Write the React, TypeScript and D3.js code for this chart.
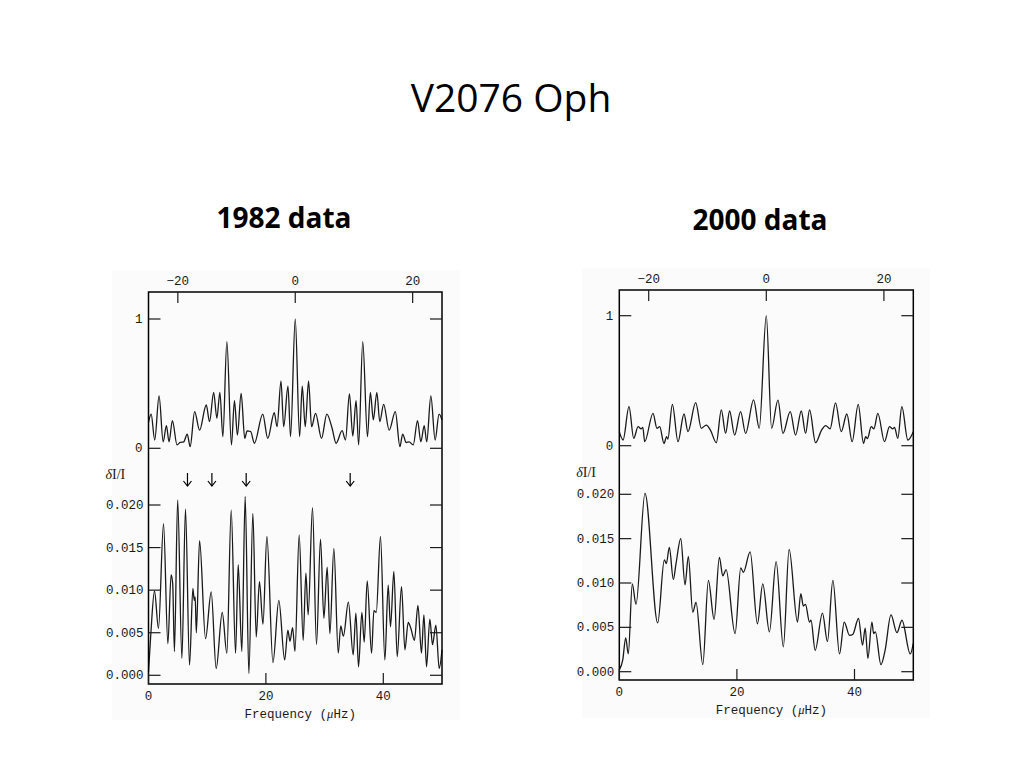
import React from 'react';
import * as d3 from 'd3';

// spectral window (top traces), offset frequency in microHz vs relative power
const window1982: [number, number][] = [
  [-25, 0.2], [-24.55, 0.265], [-23.94, 0.064], [-23.2, 0.405], [-22.5, 0.05], [-21.95, 0.175],
  [-21.5, 0.05], [-20.93, 0.214], [-20.14, 0.026], [-19.6, 0.045], [-19.0, 0.05], [-18.4, 0.11],
  [-17.9, 0.013], [-17.14, 0.283], [-16.3, 0.14], [-15.16, 0.335], [-14.6, 0.206], [-13.9, 0.433],
  [-13.35, 0.232], [-12.84, 0.433], [-12.33, 0.09], [-11.65, 0.825], [-10.87, 0.026], [-10.36, 0.368],
  [-9.85, 0.103], [-9.22, 0.425], [-8.6, 0.077], [-8.2, 0.135], [-7.6, 0.13], [-6.96, 0.039],
  [-5.54, 0.265], [-4.69, 0.077], [-3.57, 0.275], [-3.1, 0.167], [-2.43, 0.52], [-1.97, 0.167],
  [-1.24, 0.48], [-0.8, 0.09], [0, 1.0], [0.74, 0.09], [1.19, 0.48], [1.7, 0.167], [2.27, 0.52],
  [2.78, 0.167], [3.46, 0.27], [4.48, 0.077], [5.38, 0.265], [6.28, 0.155], [6.96, 0.039],
  [7.98, 0.136], [8.56, 0.064], [9.23, 0.42], [9.8, 0.095], [10.36, 0.368], [10.8, 0.026],
  [11.5, 0.825], [12.3, 0.09], [12.8, 0.433], [13.3, 0.22], [13.9, 0.433], [14.4, 0.206],
  [15.06, 0.34], [16.0, 0.14], [17.05, 0.283], [17.83, 0.013], [18.3, 0.11], [18.9, 0.045],
  [19.4, 0.05], [20.1, 0.026], [20.83, 0.214], [21.4, 0.05], [21.97, 0.175], [22.4, 0.05],
  [23.1, 0.405], [23.83, 0.064], [24.5, 0.265], [25, 0.22],
];

const window2000: [number, number][] = [
  [-25, 0.108], [-24.36, 0.044], [-23.35, 0.3], [-22.55, 0.057], [-21.8, 0.146], [-21.3, 0.13],
  [-21.0, 0.14], [-20.68, 0.031], [-19.27, 0.249], [-18.59, 0.134], [-18.13, 0.146], [-17.4, 0.018],
  [-16.95, 0.07], [-16.75, 0.05], [-15.97, 0.318], [-15.02, 0.031], [-14.0, 0.244], [-13.32, 0.108],
  [-12.01, 0.331], [-11.05, 0.134], [-10.2, 0.159], [-9.5, 0.12], [-8.5, 0.023], [-7.65, 0.275],
  [-6.92, 0.095], [-6.24, 0.267], [-5.39, 0.082], [-4.37, 0.262], [-3.52, 0.095], [-2.16, 0.352],
  [-1.2, 0.134], [0, 1.0], [0.9, 0.134], [1.98, 0.35], [2.83, 0.095], [4.07, 0.262], [4.98, 0.082],
  [5.95, 0.267], [6.68, 0.095], [7.36, 0.275], [8.38, 0.023], [9.4, 0.12], [10.1, 0.155],
  [10.85, 0.13], [11.78, 0.33], [12.74, 0.108], [13.7, 0.244], [14.6, 0.031], [15.63, 0.318],
  [16.53, 0.018], [16.9, 0.07], [17.2, 0.055], [17.84, 0.146], [18.3, 0.13], [18.97, 0.249],
  [20.1, 0.031], [20.95, 0.146], [21.5, 0.13], [21.8, 0.14], [22.37, 0.057], [23.05, 0.3],
  [24.07, 0.044], [25, 0.108],
];

// amplitude spectra (bottom traces), frequency in microHz vs dI/I
const amp1982: [number, number][] = [
  [0, 0.0004], [0.4, 0.0049], [1.02, 0.0099], [1.7, 0.0055], [2.56, 0.0178], [3.3, 0.0037],
  [3.85, 0.0118], [4.12, 0.0108], [4.42, 0.0028], [4.97, 0.0206], [5.69, 0.002], [6.3, 0.0195],
  [6.99, 0.0012], [7.56, 0.0102], [7.8, 0.0088], [7.95, 0.0092], [8.15, 0.005], [8.7, 0.0158],
  [9.72, 0.0043], [10.68, 0.0098], [11.53, 0.0008], [12.56, 0.0074], [13.35, 0.0026], [14.09, 0.0194],
  [14.83, 0.0026], [15.28, 0.013], [15.9, 0.0028], [16.47, 0.021], [17.1, 0.0002], [17.78, 0.019],
  [18.35, 0.0045], [18.9, 0.011], [19.5, 0.006], [20.17, 0.0163], [21.2, 0.0015], [22.2, 0.0088],
  [23.2, 0.0018], [23.74, 0.0053], [24.1, 0.004], [24.55, 0.0056], [24.95, 0.0028], [25.67, 0.0165],
  [26.35, 0.0041], [26.81, 0.012], [27.2, 0.0071], [27.94, 0.0197], [28.62, 0.0036], [29.3, 0.016],
  [29.88, 0.0067], [30.44, 0.0127], [30.9, 0.0049], [31.58, 0.0149], [32.32, 0.0026], [32.75, 0.0058],
  [33.2, 0.0046], [34.05, 0.0086], [34.87, 0.0024], [35.33, 0.0073], [35.78, 0.001], [36.35, 0.0074],
  [36.75, 0.0039], [37.26, 0.0111], [38.0, 0.0026], [38.4, 0.0076], [38.8, 0.0074], [39.52, 0.0163],
  [40.27, 0.0018], [40.83, 0.0106], [41.23, 0.0057], [41.8, 0.0122], [42.37, 0.0022], [43.1, 0.0104],
  [43.68, 0.003], [44.24, 0.0062], [44.7, 0.0055], [45.3, 0.0041], [45.9, 0.0082], [46.5, 0.0026],
  [46.92, 0.0071], [47.36, 0.001], [47.93, 0.0066], [48.38, 0.0036], [48.96, 0.0059], [49.52, 0.0008],
  [50, 0.003],
];

const amp2000: [number, number][] = [
  [0, 0.0002], [0.58, 0.0013], [1.09, 0.0038], [1.53, 0.002], [2.21, 0.0099], [2.84, 0.0076],
  [4.37, 0.0201], [6.53, 0.0055], [7.66, 0.0126], [8.0, 0.0122], [8.51, 0.014], [9.19, 0.0104],
  [9.65, 0.0122], [10.45, 0.015], [11.18, 0.0098], [11.74, 0.013], [12.49, 0.0067], [13.05, 0.0078],
  [14.2, 0.0008], [15.15, 0.0103], [16.12, 0.0059], [17.02, 0.0129], [17.6, 0.0108], [18.16, 0.0115],
  [19.69, 0.0043], [20.66, 0.0117], [21.1, 0.0112], [22.25, 0.0135], [23.49, 0.0054], [24.4, 0.0099],
  [25.53, 0.0045], [26.67, 0.0124], [27.9, 0.0028], [28.88, 0.0138], [30.3, 0.0056], [30.87, 0.0088],
  [31.3, 0.0074], [31.66, 0.0076], [32.34, 0.0056], [32.6, 0.0058], [33.31, 0.0024], [34.55, 0.0066],
  [35.4, 0.0034], [36.32, 0.0103], [37.45, 0.002], [38.25, 0.0056], [39.15, 0.0041], [39.7, 0.0042],
  [40.68, 0.006], [41.36, 0.003], [41.82, 0.0049], [42.28, 0.0015], [42.96, 0.0056], [43.25, 0.0043],
  [43.55, 0.0045], [44.49, 0.0008], [45.2, 0.0024], [46.2, 0.0064], [47.22, 0.0044], [48.07, 0.0058],
  [49.48, 0.002], [50, 0.0032],
];

// marked frequencies (arrows) on the 1982 spectrum
const arrows1982 = [6.64, 10.8, 16.64, 34.36];
const arrows2000: number[] = [];

const offsetTicks = [-20, 0, 20];
const windowTicks = [0, 1];
const ampTicks = [0, 0.005, 0.01, 0.015, 0.02];
const freqTicks = [0, 20, 40];

const mono = '"Liberation Mono", "DejaVu Sans Mono", monospace';
const serif = '"Liberation Serif", "DejaVu Serif", serif';
const ink = '#1a1a1a';

interface Box {
  left: number; right: number; top: number; bottom: number;
  win0: number; win1: number; amp0: number; amp20: number;
  bg: [number, number, number, number];
}

const Panel = ({ box, win, amp, arrows }: { box: Box; win: [number, number][]; amp: [number, number][]; arrows: number[] }) => {
  const xOff = d3.scaleLinear().domain([-25, 25]).range([box.left, box.right]);
  const yWin = d3.scaleLinear().domain([0, 1]).range([box.win0, box.win1]);
  const xFreq = d3.scaleLinear().domain([0, 50]).range([box.left, box.right]);
  const yAmp = d3.scaleLinear().domain([0, 0.02]).range([box.amp0, box.amp20]);

  const winLine = d3.line<[number, number]>().x(d => xOff(d[0])).y(d => yWin(d[1])).curve(d3.curveMonotoneX);
  const ampLine = d3.line<[number, number]>().x(d => xFreq(d[0])).y(d => yAmp(d[1])).curve(d3.curveMonotoneX);

  const [bx, by, bw, bh] = box.bg;
  return (
    <g>
      <rect x={bx} y={by} width={bw} height={bh} fill="#fbfbfb" />
      <path d={winLine(win) || ''} fill="none" stroke={ink} strokeWidth={1.3} />
      <path d={ampLine(amp) || ''} fill="none" stroke={ink} strokeWidth={1.3} />
      <rect x={box.left} y={box.top} width={box.right - box.left} height={box.bottom - box.top}
        fill="none" stroke="#000" strokeWidth={1.5} />

      {offsetTicks.map(t => (
        <g key={'o' + t}>
          <line x1={xOff(t)} x2={xOff(t)} y1={box.top} y2={box.top + 11} stroke={ink} strokeWidth={1.2} />
          <text x={xOff(t)} y={box.top - 7} textAnchor="middle" fontSize={12.5} fontFamily={mono} fill={ink}>
            {t < 0 ? '\u2212' + Math.abs(t) : t}
          </text>
        </g>
      ))}
      {windowTicks.map(t => (
        <g key={'w' + t}>
          <line x1={box.left} x2={box.left + 12} y1={yWin(t)} y2={yWin(t)} stroke={ink} strokeWidth={1.2} />
          <line x1={box.right - 12} x2={box.right} y1={yWin(t)} y2={yWin(t)} stroke={ink} strokeWidth={1.2} />
          <text x={box.left - 6} y={yWin(t) + 4} textAnchor="end" fontSize={12.5} fontFamily={mono} fill={ink}>{t}</text>
        </g>
      ))}
      {ampTicks.map(t => (
        <g key={'a' + t}>
          <line x1={box.left} x2={box.left + 12} y1={yAmp(t)} y2={yAmp(t)} stroke={ink} strokeWidth={1.2} />
          <line x1={box.right - 12} x2={box.right} y1={yAmp(t)} y2={yAmp(t)} stroke={ink} strokeWidth={1.2} />
          <text x={box.left - 5} y={yAmp(t) + 4} textAnchor="end" fontSize={12.5} fontFamily={mono} fill={ink}>
            {t.toFixed(3)}
          </text>
        </g>
      ))}
      {freqTicks.map(t => (
        <g key={'f' + t}>
          <line x1={xFreq(t)} x2={xFreq(t)} y1={box.bottom} y2={box.bottom - 11} stroke={ink} strokeWidth={1.2} />
          <text x={xFreq(t)} y={box.bottom + 16} textAnchor="middle" fontSize={12.5} fontFamily={mono} fill={ink}>{t}</text>
        </g>
      ))}
      <text x={(box.left + box.right) / 2 + 5} y={box.bottom + 34} textAnchor="middle" fontSize={12.5} fontFamily={mono} fill={ink}>
        Frequency (<tspan fontStyle="italic" fontFamily={serif}>μ</tspan>Hz)
      </text>
      <text x={box.left - 43} y={box.top + 187} fontSize={14} fontFamily={serif} fill={ink}>
        <tspan fontStyle="italic">δ</tspan>I/I
      </text>
      {arrows.map(f => {
        const x = xFreq(f);
        const y0 = box.top + 181;
        const y1 = y0 + 13;
        return (
          <g key={'ar' + f} stroke="#000" strokeWidth={1.2} fill="none">
            <line x1={x} x2={x} y1={y0} y2={y1} />
            <path d={`M${x - 4},${y1 - 5}L${x},${y1}L${x + 4},${y1 - 5}`} />
          </g>
        );
      })}
    </g>
  );
};

const box1982: Box = {
  left: 148.5, right: 442, top: 292, bottom: 684,
  win0: 448.3, win1: 319, amp0: 675.3, amp20: 505,
  bg: [112, 270, 348, 450],
};
const box2000: Box = {
  left: 619.3, right: 913.3, top: 290, bottom: 680,
  win0: 445.7, win1: 315.7, amp0: 671.7, amp20: 494.3,
  bg: [582, 268, 348, 450],
};

const sans = '"Open Sans", "Liberation Sans", sans-serif';

export default function App() {
  return (
    <svg width={1024} height={768} style={{ position: 'absolute', left: 0, top: 0, display: 'block', background: '#fff' }}>
      <rect width={1024} height={768} fill="#fff" />
      <text x={511} y={112} textAnchor="middle" fontSize={39} fontFamily={sans} fill="#000">V2076 Oph</text>
      <text x={284} y={228} textAnchor="middle" fontSize={28} fontWeight="bold" fontFamily={sans} fill="#000">1982 data</text>
      <text x={760} y={230} textAnchor="middle" fontSize={28} fontWeight="bold" fontFamily={sans} fill="#000">2000 data</text>
      <Panel box={box1982} win={window1982} amp={amp1982} arrows={arrows1982} />
      <Panel box={box2000} win={window2000} amp={amp2000} arrows={arrows2000} />
    </svg>
  );
}
